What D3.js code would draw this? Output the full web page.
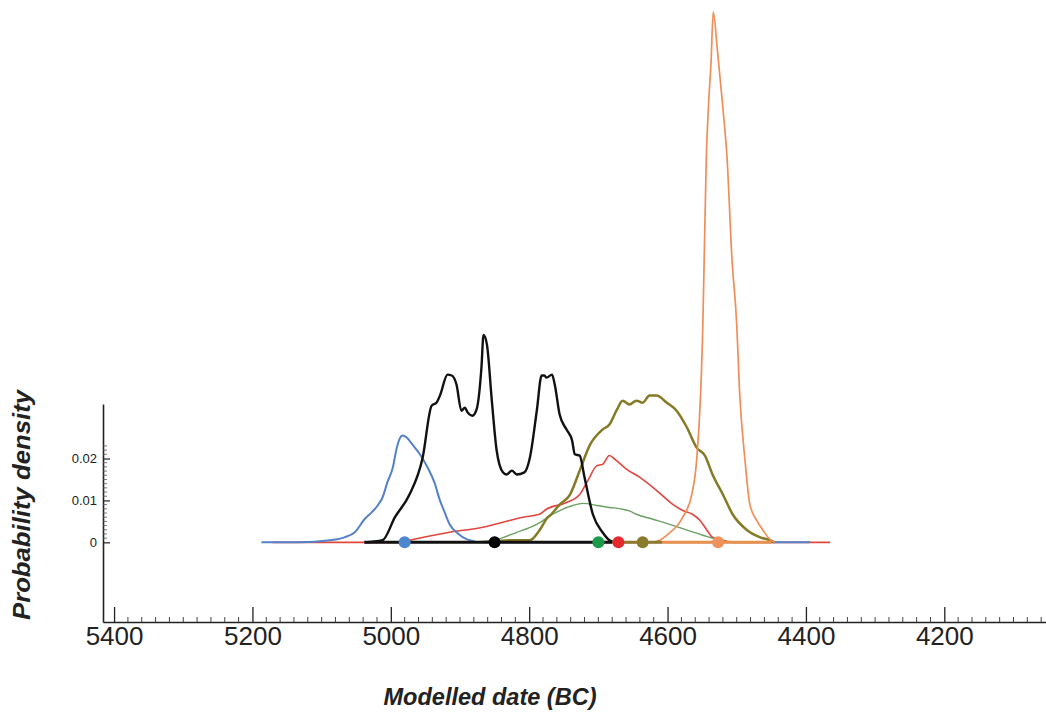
<!DOCTYPE html>
<meta charset="utf-8">
<script src="https://d3js.org/d3.v7.min.js"></script>
<style>
  body { margin: 0; background: #fff; }
  text { font-family: "Liberation Sans", Arial, sans-serif; }
</style>
<body>
<div id="chart"></div>
<script>

// density curves, [year BC, probability density]
var blueCurve = [[5187,0],[5132,0],[5088,0.0005],[5067,0.0012],[5052,0.0024],[5038,0.0055],[5028,0.0071],
  [5019,0.0088],[5012,0.0107],[5005,0.0143],[4997,0.0179],[4992,0.0221],[4987,0.0248],[4983,0.0255],
  [4977,0.0250],[4970,0.0236],[4958,0.0210],[4947,0.0179],[4937,0.0143],[4929,0.0100],[4922,0.0071],
  [4915,0.0043],[4903,0.0021],[4890,0.0007],[4867,0],[4394,0]];

var blackCurve = [[5038,0],[5012,0.0005],[4994,0.0060],[4973,0.0114],[4954,0.0202],[4941,0.0326],
  [4934,0.0333],[4929,0.0350],[4918,0.0400],[4912,0.0398],[4905,0.0376],[4898,0.0314],[4893,0.0321],
  [4889,0.0310],[4882,0.0302],[4876,0.0317],[4869,0.0417],[4866,0.0495],[4861,0.0471],[4854,0.0338],
  [4847,0.0219],[4838,0.0167],[4833,0.0162],[4825,0.0171],[4818,0.0162],[4807,0.0167],[4799,0.0202],
  [4789,0.0314],[4782,0.0398],[4778,0.0398],[4775,0.0393],[4767,0.0400],[4763,0.0376],[4756,0.0305],
  [4746,0.0269],[4738,0.0243],[4734,0.0210],[4727,0.0207],[4720,0.0155],[4708,0.0067],[4694,0.0024],
  [4684,0.0005],[4676,0]];

var redCurve = [[5171,0],[4987,0],[4973,0.0005],[4915,0.0024],[4867,0.0036],[4838,0.0048],[4809,0.0060],
  [4785,0.0067],[4775,0.0079],[4746,0.0095],[4727,0.0114],[4715,0.0148],[4702,0.0183],[4694,0.0186],
  [4684,0.0207],[4676,0.0198],[4659,0.0174],[4640,0.0155],[4616,0.0124],[4592,0.0090],[4578,0.0076],
  [4564,0.0067],[4553,0.0052],[4543,0.0029],[4535,0.0012],[4520,0.0005],[4503,0],[4365,0]];

var greenCurve = [[4886,0],[4847,0.0007],[4818,0.0024],[4789,0.0043],[4766,0.0067],[4737,0.0088],
  [4722,0.0093],[4702,0.0088],[4684,0.0083],[4672,0.0081],[4665,0.0079],[4655,0.0075],[4645,0.0067],
  [4621,0.0055],[4597,0.0043],[4572,0.0029],[4549,0.0017],[4529,0.0007],[4510,0],[4467,0]];

var oliveCurve = [[4857,0],[4828,0.0005],[4799,0.0005],[4785,0.0029],[4773,0.0060],[4770,0.0064],
  [4756,0.0090],[4741,0.0114],[4727,0.0171],[4712,0.0233],[4694,0.0269],[4684,0.0281],[4673,0.0317],
  [4665,0.0338],[4655,0.0329],[4645,0.0338],[4636,0.0333],[4626,0.0350],[4616,0.0350],[4601,0.0333],
  [4587,0.0314],[4572,0.0274],[4558,0.0226],[4546,0.0207],[4535,0.0162],[4520,0.0114],[4506,0.0067],
  [4485,0.0029],[4466,0.0012],[4452,0.0005],[4445,0]];

var orangeCurve = [[4698,0],[4626,0],[4611,0.0005],[4601,0.0017],[4578,0.0060],[4565,0.0114],
  [4558,0.0195],[4552,0.0362],[4549,0.0519],[4547,0.0679],[4544,0.0917],[4541,0.1036],[4537,0.1150],
  [4534,0.1265],[4528,0.1175],[4520,0.1036],[4514,0.0917],[4507,0.0679],[4500,0.0519],
  [4496,0.0362],[4488,0.0195],[4481,0.0090],[4471,0.0052],[4462,0.0029],[4452,0.0007],[4445,0]];

// point estimates on the baseline (years BC)
var dotYears = [4980, 4850, 4700, 4671, 4636, 4527];
// ranges drawn along the baseline
var rangeStart = [5038, 4680, 4608];
var rangeEnd   = [4680, 4608, 4450];

var xMajorTicks = [5400, 5200, 5000, 4800, 4600, 4400, 4200];
var yMajorTicks = [0, 0.01, 0.02];

var curveColors = {blue: "#5581c8", black: "#111111", red: "#e0463e", green: "#6aa062", olive: "#857a25", orange: "#f08e58"};
var dotColors = ["#4b86d0", "#000000", "#1b9a4a", "#e42a2e", "#8a7a2c", "#f0925c"];
var rangeColors = ["#111111", "#92782e", "#e9924e"];

var width = 1046, height = 713;

var svg = d3.select("#chart")
  .append("svg")
    .attr("width", width)
    .attr("height", height);

var x = d3.scaleLinear()
  .domain([5416, 4053])
  .range([103, 1046]);

var y = d3.scaleLinear()
  .domain([-0.019, 0.033])
  .range([622, 404]);

// x axis: major ticks pointing up, labels below
var xAxis = svg.append("g")
  .attr("transform", "translate(0,622)")
  .call(d3.axisBottom(x).tickValues(xMajorTicks).tickSize(-15).tickSizeOuter(0).tickPadding(5).tickFormat(d3.format("d")));
xAxis.select(".domain").attr("stroke", "#222").attr("stroke-width", 1.6);
xAxis.selectAll(".tick line").attr("stroke", "#222").attr("stroke-width", 1.3);
xAxis.selectAll(".tick text").style("font-size", "26px").attr("fill", "#222");

var xMinor = d3.range(5400, 4053, -20).filter(function(d) { return d % 200 != 0; });
svg.append("g")
  .selectAll("line")
  .data(xMinor)
  .enter()
  .append("line")
    .attr("x1", function(d) { return x(d); })
    .attr("x2", function(d) { return x(d); })
    .attr("y1", 622)
    .attr("y2", 617)
    .attr("stroke", "#444")
    .attr("stroke-width", 1);

// y axis: ticks point right, labels left
var yAxis = svg.append("g")
  .attr("transform", "translate(103,0)")
  .call(d3.axisLeft(y).tickValues(yMajorTicks).tickSize(-7).tickSizeOuter(0).tickPadding(6)
    .tickFormat(function(d) { return d == 0 ? "0" : d.toFixed(2); }));
yAxis.select(".domain").attr("stroke", "#222").attr("stroke-width", 1.6);
yAxis.selectAll(".tick line").attr("stroke", "#222").attr("stroke-width", 1.2);
yAxis.selectAll(".tick text").style("font-size", "13px").attr("fill", "#222");

var yMinor = d3.range(1, 24).map(function(i) { return i / 1000; }).filter(function(d) { return Math.round(d * 1000) % 10 != 0; });
svg.append("g")
  .selectAll("line")
  .data(yMinor)
  .enter()
  .append("line")
    .attr("x1", 103)
    .attr("x2", 107)
    .attr("y1", function(d) { return y(d); })
    .attr("y2", function(d) { return y(d); })
    .attr("stroke", "#555")
    .attr("stroke-width", 0.8);

var line = d3.line()
  .x(function(d) { return x(d[0]); })
  .y(function(d) { return y(d[1]); })
  .curve(d3.curveMonotoneX);

function drawCurve(data, color, w) {
  svg.append("path")
    .datum(data)
    .attr("fill", "none")
    .attr("stroke", color)
    .attr("stroke-width", w)
    .attr("stroke-linejoin", "round")
    .attr("d", line);
}

drawCurve(redCurve, curveColors.red, 1.6);
drawCurve(greenCurve, curveColors.green, 1.4);
drawCurve(blueCurve, curveColors.blue, 2);
drawCurve(oliveCurve, curveColors.olive, 2.5);
drawCurve(orangeCurve, curveColors.orange, 1.7);
drawCurve(blackCurve, curveColors.black, 2.4);

// ranges on the baseline
svg.append("g")
  .selectAll("line")
  .data(rangeStart)
  .enter()
  .append("line")
    .attr("x1", function(d) { return x(d); })
    .attr("x2", function(d, i) { return x(rangeEnd[i]); })
    .attr("y1", y(0))
    .attr("y2", y(0))
    .attr("stroke", function(d, i) { return rangeColors[i]; })
    .attr("stroke-width", 3);

svg.append("g")
  .selectAll("circle")
  .data(dotYears)
  .enter()
  .append("circle")
    .attr("cx", function(d) { return x(d); })
    .attr("cy", y(0))
    .attr("r", 6)
    .style("fill", function(d, i) { return dotColors[i]; });

// axis titles
svg.append("text")
  .attr("transform", "translate(30,505) rotate(-90)")
  .attr("text-anchor", "middle")
  .attr("textLength", 230)
  .attr("lengthAdjust", "spacingAndGlyphs")
  .style("font-size", "23px")
  .style("font-weight", "bold")
  .style("font-style", "italic")
  .style("fill", "#222")
  .text("Probability density");

svg.append("text")
  .attr("x", 490)
  .attr("y", 705)
  .attr("text-anchor", "middle")
  .attr("textLength", 213)
  .attr("lengthAdjust", "spacingAndGlyphs")
  .style("font-size", "23px")
  .style("font-weight", "bold")
  .style("font-style", "italic")
  .style("fill", "#222")
  .text("Modelled date (BC)");

</script>
</body>
